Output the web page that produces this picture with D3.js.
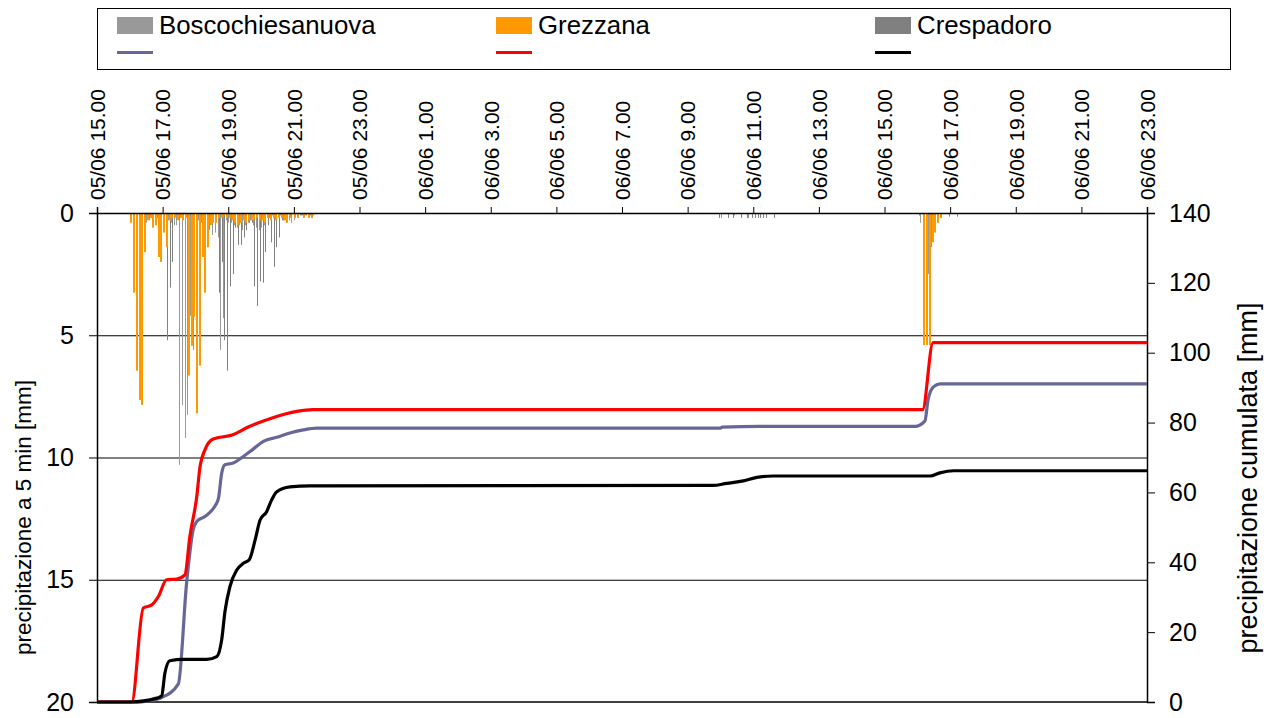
<!DOCTYPE html>
<html>
<head>
<meta charset="utf-8">
<script src="https://cdn.jsdelivr.net/npm/d3@7"></script>
<style>
  body { margin: 0; background: #fff; }
  svg { display: block; font-family: Arial, "Liberation Sans", sans-serif; }
</style>
</head>
<body>
<svg id="chart" width="1268" height="718"></svg>
<script>
// Series names and colours
var seriesNames = ['Boscochiesanuova', 'Grezzana', 'Crespadoro'];
var barColors = ['#999999', '#FF9900', '#808080'];
var lineColors = ['#666699', '#FF0000', '#000000'];

// x tick labels, one every 2 hours starting 05/06 15.00
var xTickLabels = ['05/06 15.00', '05/06 17.00', '05/06 19.00', '05/06 21.00', '05/06 23.00',
    '06/06 1.00', '06/06 3.00', '06/06 5.00', '06/06 7.00', '06/06 9.00', '06/06 11.00',
    '06/06 13.00', '06/06 15.00', '06/06 17.00', '06/06 19.00', '06/06 21.00', '06/06 23.00'];
var leftTicks = [0, 5, 10, 15, 20];
var rightTicks = [0, 20, 40, 60, 80, 100, 120, 140];

// 5 min rain [mm]: [slot, mm], slot = number of 5 min steps after 05/06 15.00
var boscoBars = [[16,0.3],[17,0.3],[18,0.4],[19,0.3],[20,0.2],[21,0.3],[22,0.2],[23,0.3],[24,0.4],[25,0.3],
    [26,0.3],[27,0.4],[28,0.5],[29,0.5],[30,10.3],[31,7.85],[32,9.2],[33,8.25],[34,4.2],[35,5.6],[36,1.4],
    [37,0.3],[38,0.4],[39,0.6],[40,1.0],[41,0.7],[42,0.9],[43,0.8],[44,1.0],[45,5.6],[46,4.3],[47,0.3],
    [48,0.4],[49,0.4],[50,0.5],[51,0.6],[52,0.5],[53,0.7],[54,0.5],[55,0.4],[56,0.3],[57,0.5],[58,0.6],
    [59,0.7],[60,0.6],[61,0.5],[62,0.2],[63,0.2],[64,0.1],[65,0.2],[66,0.1],[67,0.1],[68,0.3],[69,0.4],
    [70,0.3],[71,0.4],[72,0.3],[73,0.2],[74,0.1],[75,0.1],[76,0.1],[78,0.1],[79,0.1],[228,0.2],[233,0.1],
    [238,0.2],[301,0.4],[302,3.5],[303,3.5],[304,2.5],[305,1.4],[306,0.5],[307,0.3]];
var grezzanaBars = [[12,0.4],[13,3.26],[14,6.45],[15,7.65],[16,7.85],[17,1.6],[18,0.3],[19,0.2],[20,0.6],
    [21,0.5],[22,1.8],[23,2.0],[24,0.8],[25,1.4],[26,0.3],[27,0.2],[28,0.2],[29,0.3],[30,0.2],[31,0.3],
    [32,0.2],[33,6.65],[34,5.43],[35,4.24],[36,8.2],[37,6.24],[38,1.8],[39,3.26],[40,1.4],[41,0.5],
    [42,0.4],[43,0.4],[44,0.2],[45,0.2],[46,0.1],[47,0.2],[48,0.2],[49,0.3],[50,0.4],[51,0.5],[52,0.4],
    [53,0.3],[54,0.4],[55,0.3],[56,0.3],[57,0.3],[58,0.2],[59,0.3],[60,0.3],[61,0.4],[62,0.2],[63,0.3],
    [64,0.2],[65,0.3],[66,0.2],[67,0.2],[68,0.3],[69,0.4],[70,0.2],[72,0.2],[73,0.2],[75,0.2],[77,0.2],
    [78,0.2],[302,5.4],[303,5.4],[304,5.4],[305,1.2],[306,0.8],[307,0.4],[308,0.2]];
var crespBars = [[14,0.1],[16,0.1],[18,0.2],[19,0.2],[20,0.2],[21,0.2],[22,0.3],[23,0.4],[25,5.2],[26,3.05],
    [27,2.0],[28,0.1],[30,0.1],[33,0.1],[36,0.1],[39,0.1],[42,0.1],[44,3.26],[45,2.0],[46,5.2],[47,6.45],
    [48,3.0],[49,2.5],[50,0.6],[51,1.3],[52,1.3],[53,1.0],[54,0.7],[55,0.4],[56,0.4],[57,3.0],[58,3.8],
    [59,2.8],[60,2.85],[61,1.6],[62,0.5],[63,1.2],[64,2.2],[65,1.4],[66,1.0],[67,0.3],[68,0.2],[69,0.1],
    [70,0.1],[72,0.1],[74,0.1],[76,0.1],[227,0.2],[230,0.2],[232,0.2],[235,0.2],[237,0.2],[239,0.2],
    [240,0.2],[241,0.2],[242,0.2],[243,0.2],[244,0.2],[247,0.2],[300,0.1],[306,0.4],[307,0.3],[308,0.2],
    [311,0.15],[314,0.15]];

// cumulated rain [mm]: [hours after 05/06 15.00, mm]
var boscoCum = [[0,0],[1.31,0],[1.51,0.3],[1.97,1.3],[2.48,5.2],[2.73,34],[2.93,49.3],[3.04,51.7],
    [3.29,53.1],[3.60,56.2],[3.70,58.2],[3.80,65.5],[3.90,67.9],[4.15,68.4],[4.46,70.3],[4.76,72.4],
    [5.07,74.6],[5.48,75.8],[5.88,77.0],[6.29,77.9],[6.70,78.4],[18.99,78.4],[19.05,78.7],[20.2,78.9],
    [24.93,78.9],[25.23,80.4],[25.33,86.6],[25.49,90.2],[25.69,91.1],[32,91.1]];
var grezzanaCum = [[0,0],[1.06,0],[1.41,26.9],[1.67,27.8],[1.87,30.2],[2.12,35.0],[2.43,35.2],[2.68,36.4],
    [2.83,47.4],[3.04,58.8],[3.14,67.4],[3.29,72.2],[3.54,75.3],[4.14,76.5],[4.56,78.5],[5.36,81.4],
    [6.09,83.2],[6.58,83.7],[25.16,83.7],[25.48,102.9],[32,102.9]];
var crespCum = [[0,0],[1.01,0],[1.82,1.1],[1.97,1.7],[2.07,8.3],[2.22,11.8],[2.63,12.2],[3.34,12.2],
    [3.65,13.0],[3.80,17.8],[3.90,25.9],[4.05,33.0],[4.26,37.8],[4.46,39.7],[4.64,40.7],[4.82,46.4],
    [4.97,52.1],[5.17,54.5],[5.32,57.8],[5.48,60.2],[5.88,61.6],[6.49,61.9],[18.77,62.0],[19.19,62.6],
    [19.70,63.3],[20.11,64.3],[20.61,64.7],[25.39,64.7],[25.69,65.6],[26.10,66.2],[32,66.2]];

var svg = d3.select('#chart');
var plotLeft = 97, plotRight = 1147, plotTop = 213, plotBottom = 702;

var x = d3.scaleLinear().domain([0, 32]).range([plotLeft, plotRight]);
var yBar = d3.scaleLinear().domain([0, 20]).range([plotTop, plotBottom]);
var yCum = d3.scaleLinear().domain([0, 140]).range([plotBottom, plotTop]);

// gridlines
svg.append('g')
    .selectAll('line')
    .data([5, 10, 15])
    .join('line')
    .attr('x1', plotLeft).attr('x2', plotRight)
    .attr('y1', d => yBar(d) + 0.5).attr('y2', d => yBar(d) + 0.5)
    .attr('stroke', '#000').attr('stroke-width', 1);

// bars hanging from the top, snapped to whole pixels so thin bars stay crisp
function drawBars(data, color, offset, width) {
    svg.append('g')
        .selectAll('rect')
        .data(data)
        .join('rect')
        .attr('x', d => Math.round(x(d[0] * 5 / 60) + offset))
        .attr('y', yBar(0))
        .attr('width', width)
        .attr('height', d => yBar(d[1]) - yBar(0))
        .attr('fill', color);
}
drawBars(crespBars, barColors[2], 1.6, 1);
drawBars(boscoBars, barColors[0], 0.2, 1);
drawBars(grezzanaBars, barColors[1], 0.6, 2);

// axes
var xAxis = d3.axisTop(x)
    .tickValues(d3.range(0, 33, 2))
    .tickSize(6)
    .tickFormat((d, i) => xTickLabels[i]);
var gx = svg.append('g').attr('transform', `translate(0, ${plotTop})`).call(xAxis);

var yLeftAxis = d3.axisLeft(yBar).tickValues(leftTicks).tickSize(8).tickPadding(15);
var gl = svg.append('g').attr('transform', `translate(${plotLeft}, 0)`).call(yLeftAxis);
gl.selectAll('text').attr('font-size', '25px');

var yRightAxis = d3.axisRight(yCum).tickValues(rightTicks).tickSize(8).tickPadding(14);
var gr = svg.append('g').attr('transform', `translate(${plotRight}, 0)`).call(yRightAxis);
gr.selectAll('text').attr('font-size', '25px');

svg.selectAll('.domain').attr('stroke', '#000').attr('stroke-width', 1.5);
svg.selectAll('.tick line').attr('stroke', '#000');
svg.selectAll('.tick text').attr('fill', '#000');

// bottom frame line
svg.append('line')
    .attr('x1', plotLeft).attr('x2', plotRight)
    .attr('y1', plotBottom).attr('y2', plotBottom)
    .attr('stroke', '#000').attr('stroke-width', 1.5);

// x tick labels rotated, reading bottom to top above the top axis
gx.selectAll('.tick text')
    .attr('transform', 'rotate(-90)')
    .attr('text-anchor', 'start')
    .attr('x', 13)
    .attr('y', 0)
    .attr('dy', '0.35em')
    .attr('font-size', '21px');

// cumulated lines
var line = d3.line()
    .x(d => x(d[0]))
    .y(d => yCum(d[1]))
    .curve(d3.curveMonotoneX);
[boscoCum, grezzanaCum, crespCum].forEach((data, i) => {
    svg.append('path')
        .datum(data)
        .attr('d', line)
        .attr('fill', 'none')
        .attr('stroke', lineColors[i])
        .attr('stroke-width', 3.2)
        .attr('stroke-linejoin', 'round');
});

// axis titles
svg.append('text')
    .attr('transform', `translate(31, ${(plotTop + plotBottom) / 2 + 60}) rotate(-90)`)
    .attr('text-anchor', 'middle')
    .attr('font-size', '22.5px')
    .text('precipitazione a 5 min [mm]');
svg.append('text')
    .attr('transform', `translate(1257, 478) rotate(-90)`)
    .attr('text-anchor', 'middle')
    .attr('font-size', '27px')
    .text('precipitazione cumulata [mm]');

// legend
var legend = svg.append('g');
legend.append('rect')
    .attr('x', 97.5).attr('y', 8.5)
    .attr('width', 1133).attr('height', 61)
    .attr('fill', '#fff').attr('stroke', '#000');
var legendX = [117, 496, 875];
seriesNames.forEach((name, i) => {
    legend.append('rect')
        .attr('x', legendX[i]).attr('y', 17)
        .attr('width', 36).attr('height', 17)
        .attr('fill', barColors[i]);
    legend.append('text')
        .attr('x', legendX[i] + 42).attr('y', 34)
        .attr('font-size', '25.8px')
        .text(name);
    legend.append('line')
        .attr('x1', legendX[i]).attr('x2', legendX[i] + 36)
        .attr('y1', 52.5).attr('y2', 52.5)
        .attr('stroke', lineColors[i]).attr('stroke-width', 3);
});
</script>
</body>
</html>
